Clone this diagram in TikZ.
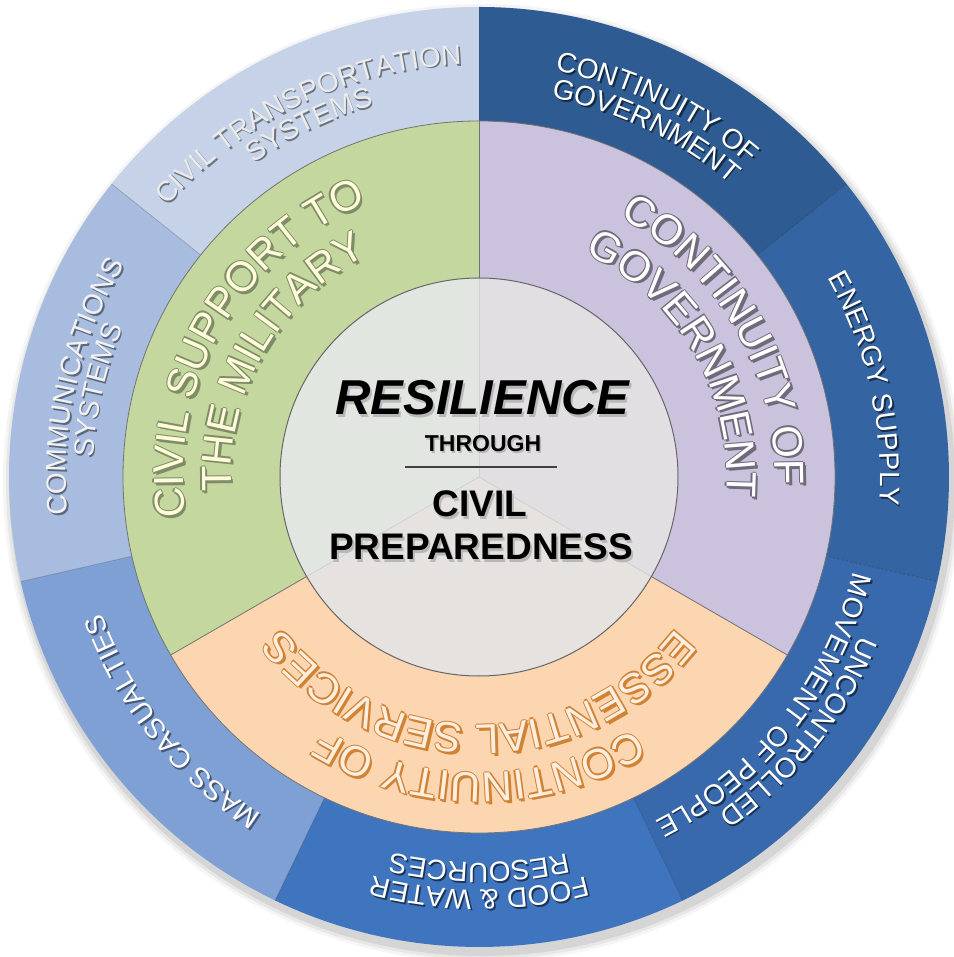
\documentclass[tikz,border=0pt]{standalone}
\usepackage{fontspec}
\setmainfont{Liberation Sans}
\usetikzlibrary{decorations.text}

% colours
\definecolor{govblue}{HTML}{2D5B92}
\definecolor{energyblue}{HTML}{3464A2}
\definecolor{peopleblue}{HTML}{3869AD}
\definecolor{foodblue}{HTML}{3F74BE}
\definecolor{casualblue}{HTML}{7FA0D5}
\definecolor{commsblue}{HTML}{A7BCDF}
\definecolor{transblue}{HTML}{C5D2E7}
\definecolor{milgreen}{HTML}{C3D79E}
\definecolor{govlilac}{HTML}{CBC3DE}
\definecolor{servpeach}{HTML}{FCD5B1}

\newcommand\ringfont{\fontsize{28}{28}\selectfont}
\newcommand\bandfont{\fontsize{42}{42}\selectfont}

% text on a clockwise arc: radius, middle angle, half span, font, colour, text
\newcommand\arclabel[6]{%
  \path[decorate, decoration={text along path, text align=center,
      text={|#4\color{#5}|#6}}]
    ({#2+#3}:#1) arc[start angle={#2+#3}, end angle={#2-#3}, radius=#1];}

% outer ring: radius, middle angle, colour, shadow colour, text
\newcommand\ringlabel[5]{%
  \begin{scope}[shift={(1.6,-1.8)}]\arclabel{#1}{#2}{45}{\ringfont}{#4}{#5}\end{scope}
  \arclabel{#1}{#2}{45}{\ringfont}{#3}{#5}}

% middle ring: radius, middle angle, colour, outline colour, text
\newcommand\bandlabel[5]{%
  \foreach \dx/\dy in {1.4/0,-1.4/0,0/1.4,0/-1.4,2.6/-2.6}{%
    \begin{scope}[shift={(\dx,\dy)}]\arclabel{#1}{#2}{75}{\bandfont}{#4}{#5}\end{scope}}%
  \arclabel{#1}{#2}{75}{\bandfont}{#3}{#5}}

\begin{document}
\begin{tikzpicture}[x=1pt, y=1pt,
    sepline/.style={draw=black, draw opacity=0.22, line width=0.7},
    bandline/.style={draw=black!55, line width=0.8},
    coretext/.style={anchor=base, inner sep=0pt, text=black},
    coreshadow/.style={anchor=base, inner sep=0pt, text=black!28}]

  \useasboundingbox (-479,-480) rectangle (474,477);

  % soft shadow
  \foreach \r/\o in {479/0.04,476/0.06,473/0.08}
    \fill[black, opacity=\o] (3,-6) circle (\r);

  % outer ring
  \foreach \c [count=\k from 0] in {govblue,energyblue,peopleblue,foodblue,casualblue,commsblue,transblue}
    \fill[\c] (0,0) -- ({90-\k*360/7}:470) arc[start angle={90-\k*360/7}, end angle={90-(\k+1)*360/7}, radius=470] -- cycle;
  \foreach \k in {0,...,6}
    \draw[sepline] ({90-\k*360/7}:356) -- ({90-\k*360/7}:470);

  % middle ring
  \fill[milgreen] (0,0) -- (90:356) arc[start angle=90, end angle=210, radius=356] -- cycle;
  \fill[servpeach] (0,0) -- (210:356) arc[start angle=210, end angle=330, radius=356] -- cycle;
  \fill[govlilac] (0,0) -- (330:356) arc[start angle=330, end angle=450, radius=356] -- cycle;
  \foreach \a in {90,210,330}
    \draw[bandline] (\a:199) -- (\a:356);
  \draw[bandline] (0,0) circle (356);

  % core
  \fill[black!10!white!98!green] (0,0) -- (90:199) arc[start angle=90, end angle=210, radius=199] -- cycle;
  \fill[black!10!white!97!orange] (0,0) -- (210:199) arc[start angle=210, end angle=330, radius=199] -- cycle;
  \fill[black!10!white!97!violet] (0,0) -- (330:199) arc[start angle=330, end angle=450, radius=199] -- cycle;
  \foreach \a in {90,210,330}
    \draw[black!18, line width=0.8] (0,0) -- (\a:199);
  \draw[black!60, line width=1] (0,0) circle (199);

  % outer ring labels
  \ringlabel{413}{115.71}{black!8!white}{black!45!transblue}{CIVIL TRANSPORTATION}
  \ringlabel{386}{115.71}{black!8!white}{black!45!transblue}{SYSTEMS}
  \ringlabel{413}{64.29}{white}{black!55!govblue}{CONTINUITY OF}
  \ringlabel{386}{64.29}{white}{black!55!govblue}{GOVERNMENT}
  \ringlabel{401}{12.86}{white}{black!55!energyblue}{ENERGY SUPPLY}
  \ringlabel{413}{-38.57}{white}{black!55!peopleblue}{UNCONTROLLED}
  \ringlabel{386}{-38.57}{white}{black!55!peopleblue}{MOVEMENT OF PEOPLE}
  \ringlabel{413}{-90}{white}{black!55!foodblue}{FOOD {\&} WATER}
  \ringlabel{386}{-90}{white}{black!55!foodblue}{RESOURCES}
  \ringlabel{401}{-141.43}{white}{black!45!casualblue}{MASS CASUALTIES}
  \ringlabel{413}{167.14}{black!5!white}{black!45!commsblue}{COMMUNICATIONS}
  \ringlabel{386}{167.14}{black!5!white}{black!45!commsblue}{SYSTEMS}

  % middle ring labels
  \bandlabel{296}{150}{white!85!yellow}{black!35!milgreen}{CIVIL SUPPORT TO}
  \bandlabel{248}{150}{white!85!yellow}{black!35!milgreen}{THE MILITARY}
  \bandlabel{296}{30}{white}{black!45!govlilac}{CONTINUITY OF}
  \bandlabel{248}{30}{white}{black!45!govlilac}{GOVERNMENT}
  \bandlabel{296}{-90}{white!60!servpeach}{black!25!orange!70!servpeach}{CONTINUITY OF}
  \bandlabel{248}{-90}{white!60!servpeach}{black!25!orange!70!servpeach}{ESSENTIAL SERVICES}

  % core text
  \node[coreshadow, font=\fontsize{49}{49}\selectfont\bfseries\itshape] (resilsh) at (5.5,59.5) {RESILIENCE};
  \node[coretext, font=\fontsize{49}{49}\selectfont\bfseries\itshape] (resil) at (3.5,62) {RESILIENCE};
  \node[coreshadow, font=\fontsize{23}{23}\selectfont\bfseries] (throughsh) at (5.5,23) {THROUGH};
  \node[coretext, font=\fontsize{23}{23}\selectfont\bfseries] (through) at (4,25) {THROUGH};
  \coordinate (rulel) at (-74,10);
  \coordinate (ruler) at (78,10);
  \draw[black!75, line width=1.3] (rulel) -- (ruler);
  \node[coreshadow, font=\fontsize{37}{37}\selectfont\bfseries] (civilsh) at (3,-42.5) {CIVIL};
  \node[coretext, font=\fontsize{37}{37}\selectfont\bfseries] (civil) at (1,-40) {CIVIL};
  \node[coreshadow, font=\fontsize{37}{37}\selectfont\bfseries] (prepsh) at (4,-85.5) {PREPAREDNESS};
  \node[coretext, font=\fontsize{37}{37}\selectfont\bfseries] (prep) at (2,-83) {PREPAREDNESS};

\end{tikzpicture}
\end{document}
